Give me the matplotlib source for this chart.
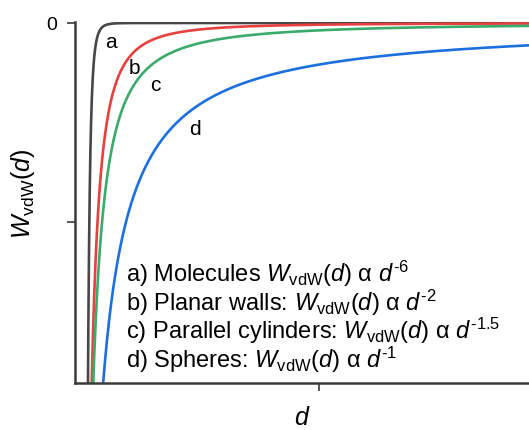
import numpy as np
import matplotlib
matplotlib.use("Agg")
import matplotlib.pyplot as plt

plt.rcParams['font.family'] = ['Liberation Sans', 'DejaVu Sans']
plt.rcParams['mathtext.fontset'] = 'custom'
plt.rcParams['mathtext.rm'] = 'Liberation Sans'
plt.rcParams['mathtext.it'] = 'Liberation Sans:italic'

# Power-law exponents and prefactors
labels = ["a", "b", "c", "d"]
exponents = [6, 2, 1.5, 1]
prefactors = [4.1e-8, 0.0085, 0.037, 0.209]
colors = ["#474747", "#e8403f", "#3aab6a", "#1c6fdf"]
legend_lines = [
    r"a) Molecules $W_{\mathrm{vdW}}(d)$ α $d^{\text{-6}}$",
    r"b) Planar walls: $W_{\mathrm{vdW}}(d)$ α $d^{\text{-2}}$",
    r"c) Parallel cylinders: $W_{\mathrm{vdW}}(d)$ α $d^{\text{-1.5}}$",
    r"d) Spheres: $W_{\mathrm{vdW}}(d)$ α $d^{\text{-1}}$",
]
label_pos = [(0.148, -0.095), (0.245, -0.225), (0.33, -0.31), (0.49, -0.53)]

fig = plt.figure(figsize=(5.29, 4.31), dpi=100)
ax = fig.add_axes([75/529, 47/431, 1 - 75/529, (384-23)/431])

d = np.linspace(0.001, 1.9, 4000)
for n, k, c in zip(exponents, prefactors, colors):
    ax.plot(d, -k / d**n, color=c, lw=1.9, solid_capstyle='butt')

for lab, (x, y) in zip(labels, label_pos):
    ax.text(x, y, lab, fontsize=15, ha='center', va='center')

ax.text(0.112, 0.186, "\n".join(legend_lines), transform=ax.transAxes,
        fontsize=17, ha='left', va='center', linespacing=0.93)

ax.set_xlim(0, 1.861)
ax.set_ylim(-1.81, 0.005)
ax.set_xticks([1])
ax.set_xticklabels([""])
ax.set_yticks([0, -1])
ax.set_yticklabels(["0", ""], fontsize=14)
for s in ['top', 'right']:
    ax.spines[s].set_visible(False)
for s in ['left', 'bottom']:
    ax.spines[s].set_linewidth(1.8)
    ax.spines[s].set_color('#3a3a3a')
ax.tick_params(length=6, width=1.2, color='#3a3a3a', pad=7)
ax.set_xlabel(r"$d$", fontsize=18, labelpad=3)
ax.set_ylabel(r"$W_{\mathrm{vdW}}(d)$", fontsize=18)
ax.yaxis.set_label_coords(-0.084, 0.526)

fig.savefig("out.png", dpi=100)
